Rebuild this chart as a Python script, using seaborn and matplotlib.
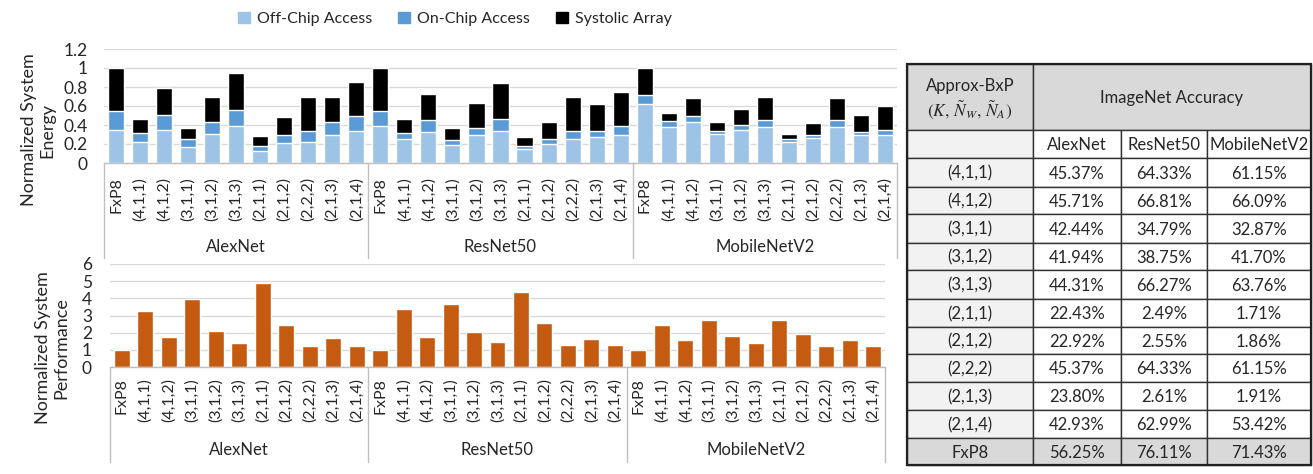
import numpy as np
import pandas as pd
import matplotlib
matplotlib.use("Agg")
import matplotlib.pyplot as plt
import matplotlib.transforms as mtransforms
from matplotlib.patches import Patch, Rectangle
import seaborn as sns

# Dados
networks = ["AlexNet", "ResNet50", "MobileNetV2"]
configs = ["FxP8", "(4,1,1)", "(4,1,2)", "(3,1,1)", "(3,1,2)", "(3,1,3)",
           "(2,1,1)", "(2,1,2)", "(2,2,2)", "(2,1,3)", "(2,1,4)"]

offchip_alexnet = [0.35, 0.22, 0.35, 0.17, 0.31, 0.39, 0.13, 0.21, 0.22, 0.30, 0.34]
onchip_alexnet = [0.20, 0.10, 0.16, 0.08, 0.12, 0.17, 0.05, 0.09, 0.12, 0.13, 0.15]
systolic_alexnet = [0.45, 0.14, 0.28, 0.12, 0.26, 0.39, 0.10, 0.18, 0.36, 0.26, 0.36]

offchip_resnet50 = [0.39, 0.25, 0.33, 0.19, 0.29, 0.34, 0.15, 0.20, 0.25, 0.27, 0.29]
onchip_resnet50 = [0.16, 0.07, 0.12, 0.05, 0.08, 0.12, 0.03, 0.05, 0.09, 0.07, 0.10]
systolic_resnet50 = [0.45, 0.14, 0.28, 0.13, 0.26, 0.38, 0.09, 0.18, 0.36, 0.28, 0.36]

offchip_mobilenet = [0.62, 0.38, 0.43, 0.31, 0.35, 0.38, 0.22, 0.26, 0.38, 0.29, 0.30]
onchip_mobilenet = [0.10, 0.06, 0.07, 0.03, 0.05, 0.07, 0.03, 0.04, 0.07, 0.04, 0.05]
systolic_mobilenet = [0.28, 0.09, 0.18, 0.09, 0.17, 0.25, 0.06, 0.12, 0.23, 0.18, 0.25]

perf_alexnet = [1.00, 3.26, 1.75, 3.96, 2.10, 1.40, 4.89, 2.45, 1.22, 1.69, 1.22]
perf_resnet50 = [1.00, 3.38, 1.75, 3.67, 2.04, 1.46, 4.37, 2.56, 1.28, 1.63, 1.28]
perf_mobilenet = [1.00, 2.45, 1.57, 2.74, 1.81, 1.40, 2.74, 1.92, 1.22, 1.57, 1.22]

table_configs = ["(4,1,1)", "(4,1,2)", "(3,1,1)", "(3,1,2)", "(3,1,3)", "(2,1,1)",
                 "(2,1,2)", "(2,2,2)", "(2,1,3)", "(2,1,4)", "FxP8"]
acc_alexnet = ["45.37%", "45.71%", "42.44%", "41.94%", "44.31%", "22.43%",
               "22.92%", "45.37%", "23.80%", "42.93%", "56.25%"]
acc_resnet50 = ["64.33%", "66.81%", "34.79%", "38.75%", "66.27%", "2.49%",
                "2.55%", "64.33%", "2.61%", "62.99%", "76.11%"]
acc_mobilenet = ["61.15%", "66.09%", "32.87%", "41.70%", "63.76%", "1.71%",
                 "1.86%", "61.15%", "1.91%", "53.42%", "71.43%"]

# Cores
C_OFF = "#9dc3e6"
C_ON = "#5b9bd5"
C_SYS = "#000000"
C_PERF = "#c55a11"
GRID = "#d9d9d9"
AXIS = "#bfbfbf"

sns.set_style("white")
plt.rcParams["font.family"] = ["Lato", "DejaVu Sans"]
plt.rcParams["mathtext.fontset"] = "stix"
FS = 11.5
FS_TAB = 12

# Montar DataFrame
rows = []
offs = [offchip_alexnet, offchip_resnet50, offchip_mobilenet]
ons = [onchip_alexnet, onchip_resnet50, onchip_mobilenet]
syss = [systolic_alexnet, systolic_resnet50, systolic_mobilenet]
perfs = [perf_alexnet, perf_resnet50, perf_mobilenet]
for n, net in enumerate(networks):
    for i, cfg in enumerate(configs):
        rows.append({"key": f"{net}|{cfg}", "network": net, "config": cfg,
                     "off": offs[n][i], "on": ons[n][i], "sys": syss[n][i],
                     "perf": perfs[n][i]})
df = pd.DataFrame(rows)
df["off_on"] = df["off"] + df["on"]
df["total"] = df["off_on"] + df["sys"]
keys = df["key"].tolist()

W, H = 1313, 474
fig = plt.figure(figsize=(W / 100, H / 100), dpi=100)


def px_axes(x0, y0, x1, y1):
    return fig.add_axes([x0 / W, 1 - y1 / H, (x1 - x0) / W, (y1 - y0) / H])


ax_e = px_axes(104, 49, 897, 163)
ax_p = px_axes(110, 264, 885, 367)

# Energia (barras empilhadas)
sns.barplot(data=df, x="key", y="total", order=keys, color=C_SYS, width=0.67,
            saturation=1, errorbar=None, ax=ax_e)
sns.barplot(data=df, x="key", y="off_on", order=keys, color=C_ON, width=0.67,
            saturation=1, errorbar=None, ax=ax_e)
sns.barplot(data=df, x="key", y="off", order=keys, color=C_OFF, width=0.67,
            saturation=1, errorbar=None, ax=ax_e)
ax_e.set_ylim(0, 1.2)
ax_e.set_yticks(np.arange(0, 1.21, 0.2))

# Performance
sns.barplot(data=df, x="key", y="perf", order=keys, color=C_PERF, width=0.68,
            saturation=1, errorbar=None, ax=ax_p)
ax_p.set_ylim(0, 6)
ax_p.set_yticks(range(0, 7))


def style_axis(ax, tick_pad, ypad, sep_depth, label_y):
    ax.set_xlim(-0.5, len(keys) - 0.5)
    ax.set_xlabel("")
    ax.set_ylabel("")
    ax.set_xticks(range(len(keys)))
    ax.set_xticklabels(df["config"], rotation=90, fontsize=FS)
    ax.tick_params(axis="x", length=0, pad=tick_pad)
    ax.tick_params(axis="y", length=0, pad=ypad, labelsize=FS + 1)
    ax.yaxis.set_major_formatter(plt.FuncFormatter(lambda v, p: f"{v:g}"))
    ax.yaxis.grid(True, color=GRID, lw=1)
    ax.set_axisbelow(True)
    for s in ["left", "right", "top"]:
        ax.spines[s].set_visible(False)
    ax.spines["bottom"].set_color(AXIS)
    ax.spines["bottom"].set_linewidth(1)
    trans = mtransforms.blended_transform_factory(ax.transData, ax.transAxes)
    n = len(configs)
    for g in range(len(networks) + 1):
        xs = g * n - 0.5
        ax.plot([xs, xs], [0, -sep_depth], color=AXIS, lw=1, transform=trans,
                clip_on=False)
    for g, net in enumerate(networks):
        ax.text(g * n + (n - 1) / 2, -label_y, net, transform=trans,
                ha="center", va="center", fontsize=FS + 0.5)


style_axis(ax_e, 10, 12, 95 / 114, 84 / 114)
style_axis(ax_p, 8, 13, 95 / 103, 83 / 103)

# Rótulos do eixo y
fig.text(38 / W, 1 - 130 / H, "Normalized System\nEnergy", rotation=90,
         ha="center", va="center", fontsize=13, linespacing=1.2)
fig.text(52 / W, 1 - 348 / H, "Normalized System\nPerformance", rotation=90,
         ha="center", va="center", fontsize=13, linespacing=1.2)

# Legenda
handles = [Patch(color=C_OFF, label="Off-Chip Access"),
           Patch(color=C_ON, label="On-Chip Access"),
           Patch(color=C_SYS, label="Systolic Array")]
fig.legend(handles=handles, loc="center", bbox_to_anchor=(455 / W, 1 - 19 / H),
           ncol=3, frameon=False, fontsize=FS, handlelength=0.75,
           handleheight=0.75, handletextpad=0.45, columnspacing=1.6)

# Tabela de acurácia
ax_t = px_axes(905, 62, 1313, 467)
ax_t.set_xlim(905, 1313)
ax_t.set_ylim(467, 62)
ax_t.axis("off")
col_edges = [907, 1033, 1121, 1207, 1311]
row_edges = [64, 130, 158, 187, 214, 243, 270, 299, 327, 354, 382, 410, 438, 465]


def cell(x0, x1, y0, y1, fc, text=""):
    ax_t.add_patch(Rectangle((x0, y0), x1 - x0, y1 - y0, facecolor=fc,
                             edgecolor="#333333", lw=1))
    if text:
        ax_t.text((x0 + x1) / 2, (y0 + y1) / 2 + 1, text, ha="center",
                  va="center", fontsize=FS_TAB)


# cabeçalho
cell(col_edges[0], col_edges[1], row_edges[0], row_edges[1], "#d9d9d9")
ax_t.text((col_edges[0] + col_edges[1]) / 2, 86, "Approx-BxP", ha="center",
          va="center", fontsize=FS_TAB)
ax_t.text((col_edges[0] + col_edges[1]) / 2, 110,
          r"$(K,\,\tilde{N}_W,\,\tilde{N}_A)$", ha="center", va="center",
          fontsize=FS_TAB + 0.5)
cell(col_edges[1], col_edges[4], row_edges[0], row_edges[1], "#d9d9d9",
     "ImageNet Accuracy")
cell(col_edges[0], col_edges[1], row_edges[1], row_edges[2], "#f2f2f2")
for c, net in enumerate(networks):
    cell(col_edges[c + 1], col_edges[c + 2], row_edges[1], row_edges[2],
         "white", net)

accs = [acc_alexnet, acc_resnet50, acc_mobilenet]
for r, cfg in enumerate(table_configs):
    y0, y1 = row_edges[r + 2], row_edges[r + 3]
    last = r == len(table_configs) - 1
    cell(col_edges[0], col_edges[1], y0, y1, "#d9d9d9" if last else "#f2f2f2", cfg)
    for c in range(3):
        cell(col_edges[c + 1], col_edges[c + 2], y0, y1,
             "#d9d9d9" if last else "white", accs[c][r])

# borda externa
ax_t.add_patch(Rectangle((col_edges[0], row_edges[0]), col_edges[-1] - col_edges[0],
                         row_edges[-1] - row_edges[0], fill=False,
                         edgecolor="#222222", lw=1.6))

fig.savefig("out.png", dpi=100)
